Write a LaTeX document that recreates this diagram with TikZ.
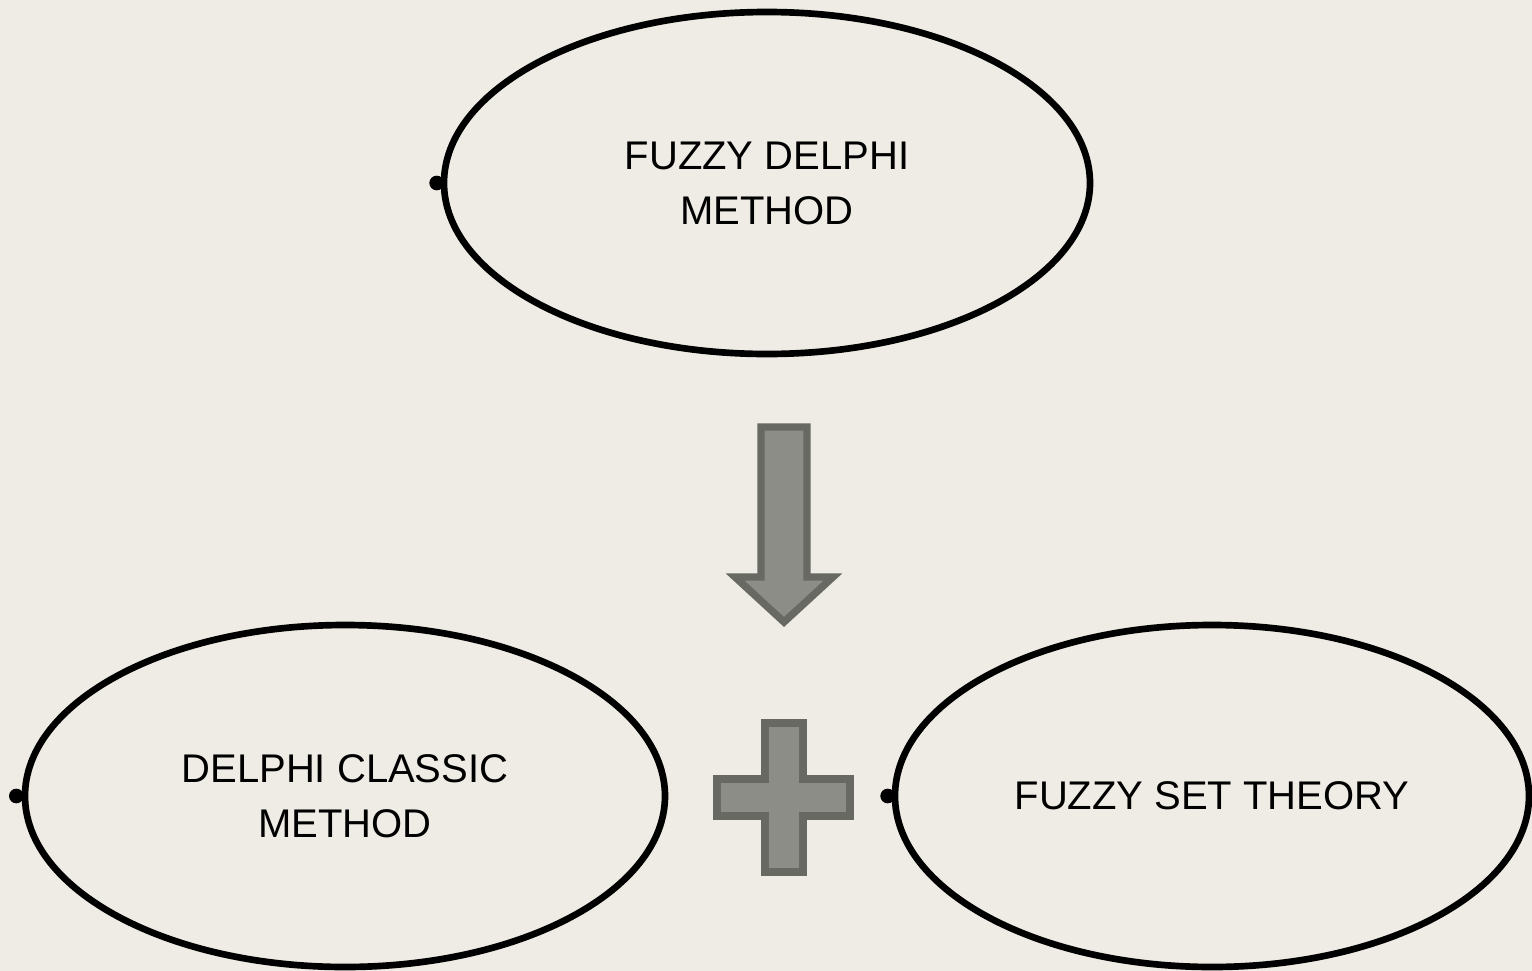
\documentclass[tikz,border=0pt]{standalone}
\usepackage{fontspec}
\setmainfont{Liberation Sans}
\usetikzlibrary{shapes.geometric}
\definecolor{paper}{RGB}{238,236,228}
\definecolor{blockfill}{RGB}{140,141,134}
\definecolor{blockline}{RGB}{104,105,99}
\tikzset{
  oval/.style={ellipse, draw=black, line width=5pt, inner sep=0pt, text depth=0pt,
    align=center, font=\fontsize{30}{41.3}\selectfont},
  knob/.style={fill=black},
  block/.style={fill=blockfill, draw=blockline, line width=5.5pt, miter limit=10}
}
\begin{document}
\begin{tikzpicture}[x=0.75pt, y=-0.75pt]
  % page and background
  \fill[paper] (0,0) rectangle (1532,971);
  \useasboundingbox (0,0) rectangle (1532,971);

  % the three ovals
  \node[oval, minimum width=484.5pt, minimum height=256.5pt] (fdm) at (767,183)
    {FUZZY DELPHI\\METHOD};
  \node[oval, minimum width=480pt, minimum height=256.5pt] (dcm) at (345,796)
    {DELPHI CLASSIC\\METHOD};
  \node[oval, minimum width=475.5pt, minimum height=256.5pt] (fst) at (1212,796)
    {FUZZY SET THEORY};

  % small knobs on the left end of each oval
  \fill[knob] ([xshift=-3pt]fdm.west) circle (5.5pt);
  \fill[knob] ([xshift=-4pt]dcm.west) circle (5.5pt);
  \fill[knob] ([xshift=-3pt]fst.west) circle (5.5pt);

  % block arrow pointing down
  \draw[block] (761,427) -- (807,427) -- (807,577) -- (833,577) -- (784,622)
    -- (735,577) -- (761,577) -- cycle;

  % plus sign
  \draw[block] (765,723) -- (803,723) -- (803,779) -- (850,779) -- (850,816)
    -- (803,816) -- (803,872) -- (765,872) -- (765,816) -- (717,816)
    -- (717,779) -- (765,779) -- cycle;
\end{tikzpicture}
\end{document}
